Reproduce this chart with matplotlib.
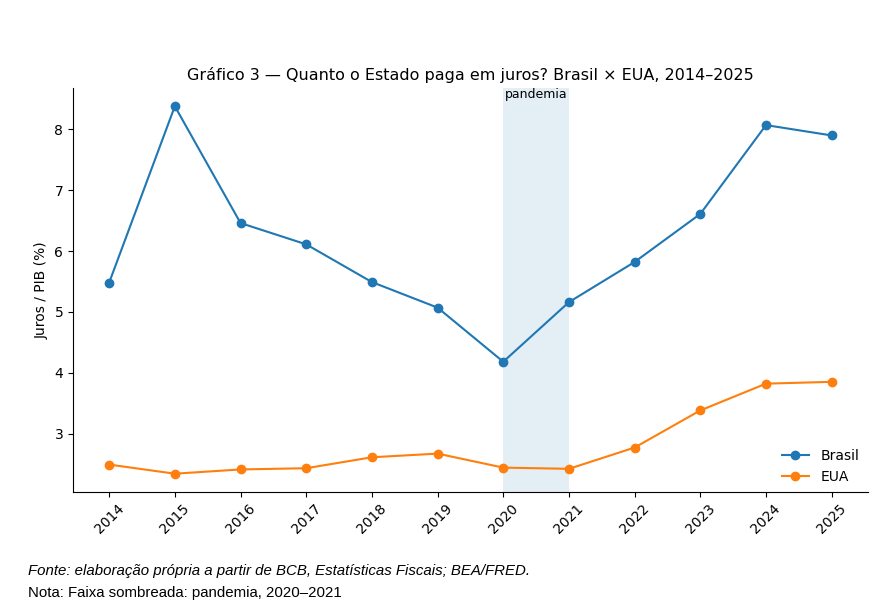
import matplotlib
matplotlib.use("Agg")
import matplotlib.pyplot as plt

years = [2014, 2015, 2016, 2017, 2018, 2019, 2020, 2021, 2022, 2023, 2024, 2025]
brasil = [5.48, 8.38, 6.46, 6.11, 5.49, 5.07, 4.18, 5.16, 5.82, 6.61, 8.07, 7.90]
eua = [2.49, 2.34, 2.41, 2.43, 2.61, 2.67, 2.44, 2.42, 2.77, 3.38, 3.82, 3.85]
tick_labels = [str(y) for y in years]
band = (2020, 2021)

fig = plt.figure(figsize=(8.95, 6.06), dpi=100)
ax = fig.add_axes([0.0816, 0.188, 0.888, 0.667])

ax.axvspan(band[0], band[1], color="#1f77b4", alpha=0.12, lw=0)
ax.plot(years, brasil, marker="o", color="#1f77b4", label="Brasil")
ax.plot(years, eua, marker="o", color="#ff7f0e", label="EUA")

ax.set_xticks(years)
ax.set_xticklabels(tick_labels, rotation=45)
ax.set_ylabel("Juros / PIB (%)")
ax.set_title("Gráfico 3 — Quanto o Estado paga em juros? Brasil × EUA, 2014–2025", fontsize=11.5)
ax.spines["top"].set_visible(False)
ax.spines["right"].set_visible(False)
ylim = ax.get_ylim()
ax.text((band[0] + band[1]) / 2, ylim[1] - 0.01, "pandemia", ha="center", va="top", fontsize=9)
ax.legend(loc="lower right", frameon=False, bbox_to_anchor=(1.005, -0.01))

fig.text(0.031, 0.057, "Fonte: elaboração própria a partir de BCB, Estatísticas Fiscais; BEA/FRED.",
         family="Liberation Sans", style="italic", fontsize=10.8, va="center")
fig.text(0.031, 0.022, "Nota: Faixa sombreada: pandemia, 2020–2021",
         family="Liberation Sans", fontsize=10.8, va="center")

fig.savefig("out.png", dpi=100)
